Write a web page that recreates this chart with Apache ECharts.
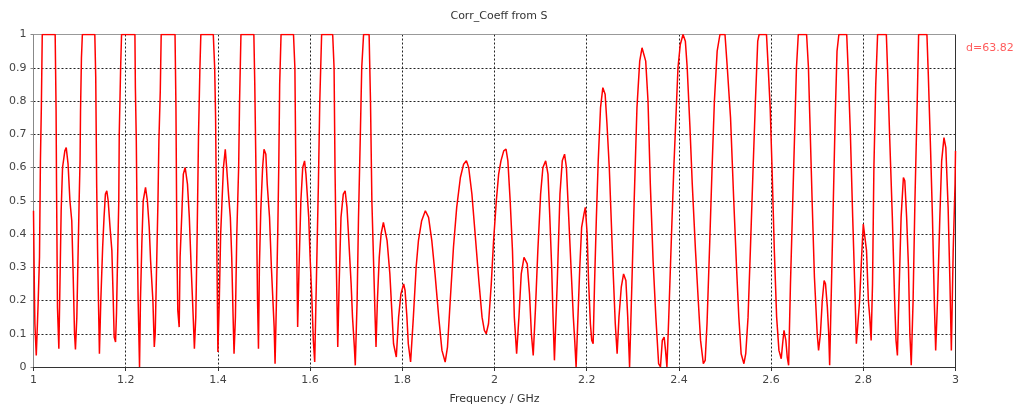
<!DOCTYPE html>
<html>
<head>
<meta charset="utf-8">
<script src="https://cdn.jsdelivr.net/npm/echarts@6/dist/echarts.min.js"></script>
<style>
  html, body { margin: 0; padding: 0; background: #fff; }
  #chart { width: 1016px; height: 410px; }
</style>
</head>
<body>
<div id="chart"></div>
<script>
const chartTitle = 'Corr_Coeff from S';
const xAxisName = 'Frequency / GHz';
const seriesName = 'd=63.82';

const freq = [
  1.000,1.002,1.003,1.006,1.008,1.010,1.013,1.015,1.017,1.019,1.047,1.049,1.050,1.052,1.055,1.058,1.060,1.063,1.068,1.071,
  1.075,1.079,1.083,1.086,1.089,1.091,1.094,1.097,1.099,1.101,1.102,1.104,1.106,1.133,1.135,1.137,1.139,1.141,1.143,1.146,
  1.150,1.153,1.156,1.159,1.162,1.166,1.170,1.173,1.175,1.178,1.180,1.182,1.185,1.186,1.189,1.191,1.220,1.221,1.223,1.225,
  1.227,1.230,1.232,1.235,1.238,1.243,1.244,1.247,1.251,1.254,1.259,1.262,1.264,1.267,1.270,1.272,1.275,1.277,1.307,1.309,
  1.311,1.313,1.316,1.318,1.322,1.325,1.329,1.331,1.334,1.338,1.342,1.345,1.347,1.349,1.352,1.355,1.358,1.361,1.363,1.390,
  1.393,1.395,1.397,1.400,1.403,1.406,1.409,1.412,1.416,1.419,1.423,1.427,1.430,1.433,1.435,1.438,1.441,1.445,1.447,1.450,
  1.478,1.480,1.483,1.486,1.488,1.490,1.493,1.497,1.500,1.504,1.507,1.512,1.516,1.520,1.522,1.524,1.527,1.530,1.532,1.534,
  1.537,1.564,1.567,1.569,1.571,1.573,1.576,1.580,1.584,1.588,1.591,1.597,1.600,1.604,1.607,1.610,1.612,1.615,1.618,1.621,
  1.625,1.649,1.652,1.654,1.657,1.660,1.663,1.667,1.672,1.676,1.680,1.684,1.689,1.692,1.696,1.698,1.702,1.705,1.709,1.712,
  1.716,1.728,1.731,1.734,1.738,1.741,1.743,1.746,1.750,1.754,1.759,1.763,1.767,1.773,1.778,1.781,1.787,1.792,1.797,1.803,
  1.806,1.810,1.813,1.818,1.824,1.830,1.835,1.842,1.850,1.857,1.864,1.871,1.879,1.886,1.893,1.898,1.904,1.911,1.918,1.926,
  1.933,1.939,1.944,1.951,1.958,1.966,1.973,1.978,1.982,1.987,1.993,1.998,2.004,2.009,2.014,2.020,2.025,2.029,2.034,2.039,
  2.043,2.048,2.053,2.058,2.064,2.066,2.071,2.076,2.080,2.084,2.089,2.094,2.100,2.105,2.111,2.116,2.120,2.124,2.127,2.130,
  2.136,2.142,2.147,2.152,2.156,2.161,2.166,2.171,2.174,2.177,2.181,2.185,2.189,2.194,2.197,2.201,2.204,2.208,2.211,2.214,
  2.217,2.221,2.225,2.230,2.235,2.240,2.244,2.249,2.253,2.257,2.262,2.266,2.270,2.275,2.280,2.285,2.289,2.293,2.298,2.303,
  2.309,2.315,2.320,2.324,2.328,2.333,2.338,2.344,2.350,2.356,2.360,2.364,2.368,2.371,2.374,2.378,2.384,2.389,2.395,2.398,
  2.403,2.409,2.414,2.418,2.424,2.429,2.436,2.442,2.447,2.453,2.457,2.461,2.467,2.472,2.477,2.483,2.489,2.500,2.505,2.512,
  2.519,2.525,2.530,2.535,2.541,2.545,2.550,2.555,2.561,2.566,2.571,2.574,2.590,2.593,2.598,2.602,2.607,2.612,2.617,2.622,
  2.625,2.628,2.632,2.635,2.638,2.642,2.646,2.651,2.655,2.659,2.677,2.681,2.684,2.689,2.694,2.700,2.703,2.707,2.711,2.715,
  2.718,2.722,2.725,2.727,2.731,2.735,2.739,2.743,2.747,2.764,2.767,2.772,2.777,2.782,2.785,2.789,2.792,2.797,2.800,2.803,
  2.807,2.811,2.814,2.817,2.820,2.823,2.827,2.831,2.850,2.853,2.857,2.863,2.868,2.871,2.874,2.877,2.882,2.887,2.890,2.894,
  2.898,2.901,2.904,2.908,2.912,2.917,2.920,2.938,2.941,2.946,2.950,2.954,2.957,2.961,2.966,2.970,2.975,2.979,2.984,2.988,
  2.991,2.995,2.999,3.000
];

const corr = [
  0.47,0.22,0.13,0.035,0.11,0.19,0.33,0.62,0.78,1.0,1.0,0.77,0.54,0.18,0.055,0.30,0.47,0.60,0.65,0.66,
  0.61,0.50,0.44,0.28,0.10,0.053,0.15,0.36,0.50,0.62,0.77,0.93,1.0,1.0,0.87,0.55,0.35,0.19,0.04,0.20,
  0.36,0.45,0.52,0.53,0.50,0.42,0.35,0.20,0.09,0.075,0.16,0.30,0.50,0.70,0.90,1.0,1.0,0.84,0.68,0.40,
  0.20,0.0,0.20,0.37,0.50,0.54,0.54,0.50,0.42,0.32,0.20,0.06,0.10,0.30,0.50,0.68,0.83,1.0,1.0,0.78,
  0.37,0.17,0.12,0.33,0.47,0.58,0.60,0.605,0.55,0.45,0.30,0.20,0.13,0.055,0.15,0.40,0.70,0.90,1.0,1.0,
  0.90,0.75,0.45,0.045,0.20,0.40,0.50,0.60,0.655,0.60,0.52,0.45,0.33,0.15,0.04,0.15,0.40,0.60,0.80,1.0,
  1.0,0.85,0.55,0.20,0.055,0.30,0.47,0.60,0.655,0.64,0.55,0.45,0.30,0.18,0.12,0.01,0.20,0.42,0.60,0.85,
  1.0,1.0,0.90,0.60,0.35,0.12,0.30,0.50,0.60,0.62,0.58,0.45,0.33,0.20,0.08,0.015,0.15,0.35,0.55,0.80,
  1.0,1.0,0.90,0.60,0.30,0.06,0.25,0.45,0.52,0.53,0.48,0.38,0.25,0.15,0.06,0.005,0.20,0.45,0.70,0.90,
  1.0,1.0,0.80,0.50,0.30,0.15,0.06,0.20,0.33,0.40,0.435,0.43,0.38,0.28,0.15,0.07,0.03,0.15,0.22,0.25,
  0.23,0.15,0.07,0.015,0.15,0.30,0.38,0.44,0.47,0.45,0.38,0.28,0.15,0.05,0.015,0.06,0.20,0.36,0.48,0.57,
  0.61,0.62,0.60,0.52,0.40,0.26,0.15,0.11,0.10,0.13,0.25,0.38,0.50,0.58,0.62,0.65,0.655,0.62,0.50,0.35,
  0.15,0.04,0.15,0.28,0.33,0.335,0.31,0.22,0.10,0.035,0.18,0.35,0.52,0.60,0.62,0.58,0.45,0.30,0.15,0.02,
  0.25,0.52,0.62,0.64,0.60,0.45,0.30,0.15,0.08,0.0,0.15,0.30,0.42,0.46,0.48,0.40,0.26,0.13,0.08,0.07,
  0.25,0.45,0.62,0.78,0.84,0.82,0.73,0.60,0.45,0.30,0.13,0.04,0.15,0.24,0.28,0.26,0.15,0.0,0.25,0.50,
  0.78,0.92,0.96,0.96,0.92,0.80,0.55,0.32,0.15,0.01,0.0,0.08,0.09,0.05,0.0,0.15,0.40,0.60,0.80,0.90,
  0.97,1.0,0.98,0.90,0.72,0.55,0.35,0.20,0.08,0.01,0.02,0.13,0.38,0.60,0.80,0.95,1.0,1.0,0.90,0.75,
  0.50,0.30,0.15,0.04,0.01,0.04,0.15,0.35,0.60,0.80,0.98,1.0,1.0,0.92,0.78,0.60,0.35,0.15,0.05,0.025,
  0.07,0.11,0.08,0.03,0.005,0.25,0.45,0.70,0.90,1.0,1.0,0.90,0.75,0.50,0.27,0.10,0.05,0.10,0.20,0.26,
  0.25,0.18,0.10,0.005,0.25,0.50,0.75,0.95,1.0,1.0,0.90,0.70,0.45,0.22,0.07,0.07,0.20,0.35,0.43,0.43,
  0.35,0.20,0.15,0.08,0.25,0.60,0.85,1.0,1.0,0.88,0.70,0.45,0.20,0.08,0.035,0.20,0.45,0.57,0.56,0.45,
  0.30,0.10,0.005,0.20,0.50,0.80,1.0,1.0,0.88,0.65,0.45,0.20,0.05,0.20,0.45,0.62,0.69,0.66,0.48,0.25,
  0.05,0.35,0.55,0.65
];

const xMin = 1, xMax = 3, xStep = 0.2;
const yMin = 0, yMax = 1, yStep = 0.1;

const seriesData = freq.map((f, i) => [f, corr[i]]);

const FONT = 'DejaVu Sans';
const chart = echarts.init(document.getElementById('chart'), null, { renderer: 'canvas' });

chart.setOption({
  animation: false,
  backgroundColor: '#ffffff',
  title: {
    text: chartTitle,
    left: 494,
    top: 6,
    textAlign: 'center',
    textStyle: { fontFamily: FONT, fontSize: 11, fontWeight: 'normal', color: '#333' }
  },
  legend: {
    data: [{ name: seriesName, icon: 'none' }],
    left: 956,
    top: 38,
    itemWidth: 0,
    itemHeight: 0,
    textStyle: { fontFamily: FONT, fontSize: 11, color: '#ff5c5c' },
    selectedMode: false
  },
  grid: { left: 33.5, right: 60.5, top: 34.5, bottom: 42, containLabel: false },
  xAxis: [
    {
      type: 'value', min: xMin, max: xMax, interval: xStep,
      name: xAxisName, nameLocation: 'middle', nameGap: 27,
      nameTextStyle: { fontFamily: FONT, fontSize: 11, color: '#333' },
      axisLine: { show: true, onZero: false, lineStyle: { color: '#333', width: 1 } },
      axisTick: { show: true, length: 4, lineStyle: { color: '#333' } },
      axisLabel: { fontFamily: FONT, fontSize: 11, color: '#444', margin: 8 },
      splitLine: { show: true, lineStyle: { color: '#222', type: [2, 2], width: 1 } }
    },
    {
      type: 'value', min: xMin, max: xMax, position: 'top',
      axisLine: { show: true, onZero: false, lineStyle: { color: '#999', width: 1 } },
      axisTick: { show: false }, axisLabel: { show: false }, splitLine: { show: false }
    }
  ],
  yAxis: [
    {
      type: 'value', min: yMin, max: yMax, interval: yStep,
      axisLine: { show: true, onZero: false, lineStyle: { color: '#888', width: 1 } },
      axisTick: { show: true, length: 3, lineStyle: { color: '#888' } },
      axisLabel: { fontFamily: FONT, fontSize: 11, color: '#444', margin: 7 },
      splitLine: { show: true, lineStyle: { color: '#222', type: [2, 2], width: 1 } }
    },
    {
      type: 'value', min: yMin, max: yMax, position: 'right',
      axisLine: { show: true, onZero: false, lineStyle: { color: '#333', width: 1 } },
      axisTick: { show: false }, axisLabel: { show: false }, splitLine: { show: false }
    }
  ],
  series: [
    {
      name: seriesName,
      type: 'line',
      xAxisIndex: 0,
      yAxisIndex: 0,
      data: seriesData,
      showSymbol: false,
      symbol: 'none',
      clip: true,
      lineStyle: { color: '#ff0000', width: 1.5 },
      itemStyle: { color: '#ff0000' }
    }
  ]
});
</script>
</body>
</html>
